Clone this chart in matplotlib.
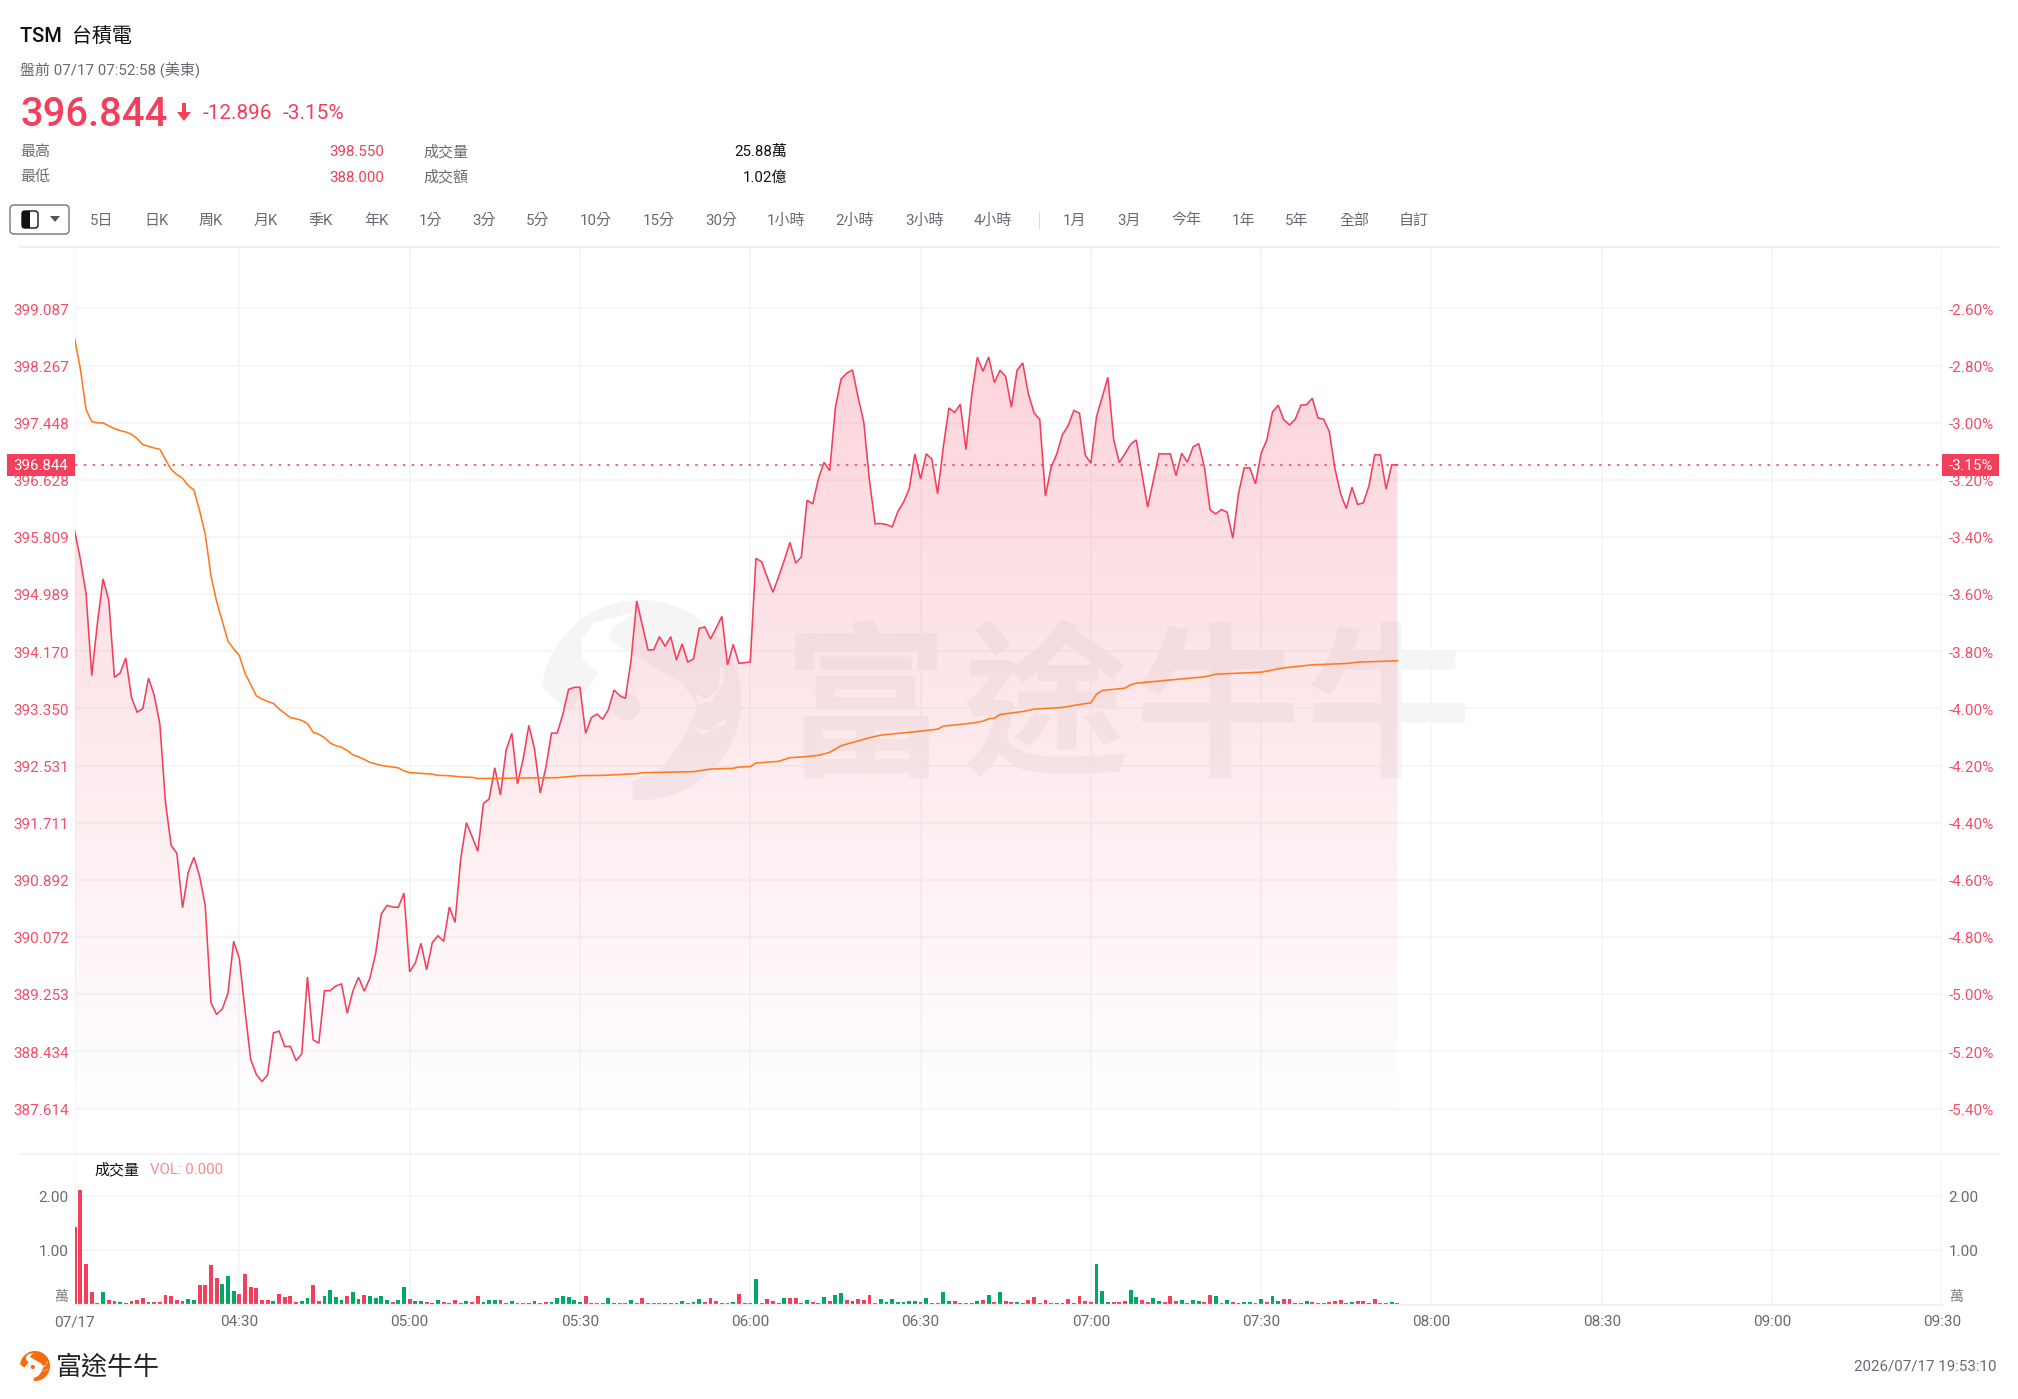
import numpy as np
import matplotlib
matplotlib.use("Agg")
import matplotlib.pyplot as plt
from matplotlib.lines import Line2D
from matplotlib.patches import Polygon, Rectangle, FancyBboxPatch, Ellipse
from matplotlib.transforms import Affine2D, ScaledTranslation

FONT = ['Roboto', 'Noto Sans CJK TC', 'DejaVu Sans']
plt.rcParams['font.family'] = FONT

# ---------- data ----------
price = [
 395.894,395.491,394.998,393.820,394.573,395.208,394.902,393.797,393.859,394.075,
 393.508,393.298,393.349,393.786,393.542,393.128,391.995,391.383,391.275,390.493,
 391.003,391.218,390.946,390.521,389.133,388.963,389.042,389.269,390.011,389.768,
 389.020,388.317,388.102,388.000,388.102,388.697,388.725,388.504,388.504,388.300,
 388.397,389.501,388.600,388.549,389.303,389.303,389.371,389.400,388.980,389.297,
 389.496,389.297,389.484,389.830,390.402,390.527,390.504,390.499,390.703,389.575,
 389.700,389.983,389.603,389.994,390.091,390.011,390.504,390.283,391.201,391.712,
 391.513,391.303,391.989,392.051,392.499,
 392.109,392.755,392.994,392.267,392.626,393.108,392.769,392.138,392.506,392.998,
 392.998,393.271,393.625,393.653,393.653,392.994,393.218,393.271,393.194,393.333,
 393.615,393.534,393.495,394.036,394.891,394.538,394.189,394.193,394.380,394.241,
 394.380,394.045,394.275,394.017,394.060,394.499,394.518,394.346,394.504,394.671,
 393.973,394.270,393.997,394.007,394.017,395.503,395.455,395.231,395.016,395.240,
 395.479,395.733,395.436,395.522,
 396.336,396.283,396.642,396.881,396.761,397.669,398.076,398.157,
 398.205,397.813,397.455,396.619,395.998,396.003,395.988,395.955,396.174,396.308,
 396.499,397.001,396.643,397.001,396.925,396.428,397.097,397.660,397.594,397.713,
 397.063,397.837,398.387,398.186,398.391,398.024,398.200,398.109,397.670,398.200,
 398.305,397.861,397.589,397.493,396.394,396.810,397.001,397.278,397.407,397.622,
 397.584,396.987,396.867,397.536,397.813,398.100,397.216,396.877,397.001,397.140,
 397.202,396.714,396.237,396.619,397.001,397.001,397.001,396.690,397.011,396.882,
 397.101,397.149,396.810,396.198,396.141,396.203,396.165,395.792,396.428,396.800,
 396.800,396.571,397.011,397.202,397.603,397.699,397.488,397.417,397.498,397.699,
 397.708,397.799,397.517,397.498,397.321,396.786,396.428,396.217,396.523,396.275,
 396.299,396.547,396.987,396.987,396.495,396.844,396.844]

avg_minute = [0,1,2,3,4,5,6,7,8,9,10,11,12,13,14,15,16,17,18,19,20,21,22,23,24,25,26,27,28,29,
 30,31,32,33,34,35,36,37,38,39,40,41,42,43,44,45,46,47,48,49,50,51,52,53,54,55,57,58,59,61,
 63,64,66,68,70,71,85,89,93,99,100,109,112,116,117,119,120,124,126,128,131,133,135,140,
 142,149,152,153,158,160,161,162,163,167,169,174,177,179,180,181,185,186,187,192,199,201,209,213,218,224,226,233]
avg_price = [398.650,398.219,397.636,397.464,397.445,397.445,397.402,397.364,397.335,397.316,
 397.282,397.220,397.134,397.110,397.086,397.067,396.919,396.776,396.704,396.651,396.546,396.484,396.188,395.848,
 395.253,394.885,394.602,394.318,394.205,394.109,393.854,393.695,393.530,393.485,393.451,393.423,393.343,393.281,
 393.219,393.202,393.179,393.134,393.009,392.981,392.930,392.856,392.817,392.794,392.748,392.686,392.658,392.618,
 392.578,392.556,392.533,392.522,392.499,392.454,392.431,392.420,392.408,392.391,392.386,392.369,392.363,392.346,
 392.358,392.387,392.391,392.415,392.429,392.444,392.482,392.492,392.511,392.516,392.568,392.592,392.645,392.654,
 392.678,392.721,392.817,392.931,
 392.968,393.025,393.054,393.097,393.140,393.168,393.202,393.212,393.264,393.307,393.341,393.365,393.408,393.431,
 393.556,393.608,393.642,393.690,393.713,393.752,393.804,393.842,393.871,393.933,393.976,393.995,394.015,394.034]

volume = [1.42,2.12,.75,.22,.01,.22,.07,.05,.04,.015,.05,.07,.11,.03,.035,.035,.17,.15,.075,.055,
 .10,.07,.36,.36,.73,.475,.37,.51,.235,.185,.55,.315,.30,.08,.08,.055,.185,.13,.15,.04,
 .05,.105,.35,.055,.15,.26,.125,.07,.155,.22,.09,.175,.15,.11,.14,.07,.04,.07,.315,.09,
 .05,.05,.04,.02,.075,.04,.02,.075,.015,.05,.045,.14,.04,.07,.07,.07,.02,.05,.02,.02,
 .02,.055,.02,.04,.035,.11,.15,.135,.075,.04,.15,.015,.015,.015,.11,.02,.02,.02,.08,.02,
 .11,.015,.015,.015,.015,.015,.015,.06,.015,.035,.085,
 .04,.105,.05,.02,.02,.035,.185,.02,.02,.455,.02,.09,.05,.02,.115,.11,.11,.02,.08,.035,
 .02,.13,.06,.165,.2,.07,.055,.09,.08,.16,.02,.09,.035,.10,.035,.035,.05,.05,.035,.11,
 .02,.02,.215,.055,.055,.02,.02,.02,.055,.07,.17,.03,.215,.055,.035,.03,.025,.075,.13,.02,
 .075,.02,.02,.02,.09,.02,.14,.055,.045,.745,.25,.035,.03,.03,.055,.26,.135,.08,.04,.11,
 .055,.03,.15,.05,.075,.02,.08,.05,.035,.165,.155,.02,.08,.03,.02,.035,.035,.02,.09,.035,
 .14,.055,.09,.085,.02,.015,.055,.045,.02,.02,.035,.05,.07,.02,.035,.055,.055,.02,.09,.02,.02,.035,.015]
vol_dir = ("rrrr gg rr gg rrr g rrrrrr gg rrrr ggg rrrrrr g rrrr gg rr gggg r gg r gggg r gg r gg r gg r g r gg rr ggg r gg rr gg rr gggggg rrrr gg rr gg rrrrrrr g r gg "
           "rrrgrgrgrg rrrggrrggr ggrggrgrrr rgggggggrg grggrrrggr grgrrggrrr rgggrgrrrg ggrrrggrrg grrrggggrr grgrgggrgr ggrrgggrrr rrrggrrgrrrgr").replace(" ", "")
price_ticks = [399.087,398.267,397.448,396.628,395.809,394.989,394.170,393.350,392.531,391.711,390.892,390.072,389.253,388.434,387.614]
pct_ticks = ["-2.60%","-2.80%","-3.00%","-3.20%","-3.40%","-3.60%","-3.80%","-4.00%","-4.20%","-4.40%","-4.60%","-4.80%","-5.00%","-5.20%","-5.40%"]
time_minutes = [0,29,59,89,119,149,179,209,239,269,299,329]
time_labels = ["07/17","04:30","05:00","05:30","06:00","06:30","07:00","07:30","08:00","08:30","09:00","09:30"]
vol_ticks = [1.0,2.0]
last_price = 396.844
assert len(price) == 234, len(price)
assert len(avg_minute) == len(avg_price), (len(avg_minute), len(avg_price))
assert len(volume) == 234, len(volume)
assert len(vol_dir) == 234, len(vol_dir)

# tool bar
periods = [("5日",102),("日K",157),("周K",211),("月K",266),("季K",321),("年K",376),("1分",430),("3分",484),("5分",538),
           ("10分",596),("15分",658.5),("30分",721),("1小時",786),("2小時",855),("3小時",924),("4小時",993),
           ("1月",1075),("3月",1129),("今年",1186),("1年",1243.5),("5年",1297),("全部",1354),("自訂",1414)]

RED = "#F23F5C"; GREEN = "#00A866"; ORANGE = "#FF7A1A"; GRAY = "#666B73"; GRID = "#F4F4F6"; DARK = "#111111"

W, H = 2018, 1399
fig = plt.figure(figsize=(W/100, H/100), dpi=100, facecolor="white")
px = Affine2D().scale(1/W, -1/H).translate(0, 1) + fig.transFigure
TEXT_DY = 1.5
down = ScaledTranslation(0, -0.5/72, fig.dpi_scale_trans)

def T(x, y, s, size, color=GRAY, ha="left", va="center", **kw):
    return fig.text(x, y+TEXT_DY, s, fontsize=size*0.72, color=color, ha=ha, va=va, transform=px, family=FONT, **kw)

def FL(x0, x1, y0, y1, color, lw, **kw):
    fig.add_artist(Line2D([x0, x1], [y0, y1], color=color, lw=lw*0.72, transform=px, **kw))

def logo(cx, cy, r, fg, bg, z):
    def P(pts):
        a = np.array(pts, float)
        return np.c_[cx + (a[:, 0]-575)/300*r, cy + (a[:, 1]-600)/300*r]
    th = np.radians(np.linspace(-97, 173, 80))
    arc = np.c_[575+300*np.cos(th), 600+300*np.sin(-th)]
    arc = np.vstack([[[550, 900]], arc[::1]])
    fig.add_artist(Polygon(P(np.vstack([arc, [[360,635],[450,520],[550,850]]])), closed=True, fc=fg, ec="none", transform=px, zorder=z))
    inner = [(395,420),(430,370),(560,335),(490,385),(478,415),(500,435),(700,550),(745,620),(700,720),(640,800),(550,845),(450,640),(450,520),(400,480)]
    fig.add_artist(Polygon(P(inner), closed=True, fc=bg, ec="none", transform=px, zorder=z))
    for cres in ([(815,490),(805,570),(770,597),(738,580),(745,615),(790,600),(825,540)],
                 [(848,590),(835,650),(780,692),(728,680),(760,705),(830,670)]):
        fig.add_artist(Polygon(P(cres), closed=True, fc=bg, ec="none", transform=px, zorder=z))
    c = P([(530, 620)])[0]
    fig.add_artist(Ellipse(c, 2*42/300*r, 2*42/300*r, fc=fg, ec="none", transform=px, zorder=z))

# ---------- watermark (beneath the plot) ----------
logo(641, 700, 100, "#F5F5F5", "white", -2)
for ch, cx in zip("富途牛牛", [866, 1046, 1217, 1388]):
    T(cx, 716, ch, 166, color="#F5F5F5", ha="center", fontweight="bold", zorder=-2)

# ---------- panels ----------
X0, X1, YT, YB, YV = 74.7, 1942.4, 247, 1153, 1304
def add_ax(ytop, ybot):
    a = fig.add_axes([X0/W, 1-ybot/H, (X1-X0)/W, (ybot-ytop)/H])
    a.patch.set_visible(False)
    for s in a.spines.values():
        s.set_visible(False)
    return a
ax = add_ax(YT, YB)
vx = add_ax(YB, YV)

PY = lambda y: 398.267 - (y-365.6)*0.8195/57.15
ax.set_xlim(0, 329); ax.set_ylim(PY(YB), PY(YT))
ax.set_xticks(time_minutes); ax.set_xticklabels([])
ax.set_yticks(price_ticks)
ax.set_yticklabels([f"{v:.3f}" for v in price_ticks], color="#F34E68", fontsize=11)
ax.tick_params(axis="both", length=0, pad=4.2)
ax.grid(True, color=GRID, lw=1.1, zorder=0)
ax.set_axisbelow(True)

rx = ax.twinx()
rx.set_ylim(ax.get_ylim()); rx.set_yticks(price_ticks)
rx.set_yticklabels(pct_ticks, color="#F34E68", fontsize=11)
rx.tick_params(axis="y", length=0, pad=4.5)
for s in rx.spines.values():
    s.set_visible(False)
rx.patch.set_visible(False)

# gradient fill under the price line
xs = np.arange(len(price))
ytop_fill, ybot_fill = max(price), PY(1125)
grad = np.zeros((256, 1, 4))
grad[..., 0], grad[..., 1], grad[..., 2] = 242/255, 63/255, 92/255
grad[..., 3] = np.linspace(0.22, 0.0, 256)[:, None]
im = ax.imshow(grad, extent=(0, xs[-1], ybot_fill, ytop_fill), origin="upper", aspect="auto", zorder=1, interpolation="bilinear")
poly = Polygon(np.vstack([[0, ybot_fill], np.c_[xs, price], [xs[-1], ybot_fill]]), closed=True, transform=ax.transData, fc="none", ec="none")
ax.add_patch(poly)
im.set_clip_path(poly)
ax.set_xlim(0, 329); ax.set_ylim(PY(YB), PY(YT))

ax.plot(xs, price, color=RED, lw=1.15, zorder=3, solid_joinstyle="miter")
ax.plot(avg_minute, avg_price, color=ORANGE, lw=1.15, zorder=4)
ax.axhline(last_price, color=RED, lw=1.1, ls=(0, (1.6, 4.2)), zorder=5)

# volume panel
vx.set_xlim(0, 329); vx.set_ylim(0, (YV-YB)/54)
vx.set_xticks(time_minutes); vx.set_xticklabels(time_labels, color=GRAY, fontsize=11)
vx.set_yticks(vol_ticks); vx.set_yticklabels(["1.00", "2.00"], color=GRAY, fontsize=11)
vx.tick_params(axis="both", length=0)
vx.tick_params(axis="y", pad=4.5)
vx.tick_params(axis="x", pad=8)
vx.grid(True, color=GRID, lw=1.1, zorder=0)
vx.set_axisbelow(True)
vx.bar(np.arange(234), volume, width=0.68, color=[RED if d == "r" else GREEN for d in vol_dir], zorder=3)
rv = vx.twinx()
rv.set_ylim(vx.get_ylim()); rv.set_yticks(vol_ticks); rv.set_yticklabels(["1.00", "2.00"], color=GRAY, fontsize=11)
rv.tick_params(axis="y", length=0, pad=4.5)
for s in rv.spines.values():
    s.set_visible(False)
rv.patch.set_visible(False)

# tick labels sit slightly lower than matplotlib's centring
for a in (ax, rx, vx, rv):
    for lab in a.get_yticklabels():
        lab.set_transform(lab.get_transform() + down)

FL(20, 1998, 246.7, 246.7, "#EEEEEE", 2.2)
FL(20, 1998, 1153.5, 1153.5, "#F2F2F3", 1.6)
FL(74, 1942, 1305, 1305, "#F0F0F0", 2.2)

T(68, 1296, "萬", 14, ha="right", alpha=.85)
T(1949, 1296, "萬", 14, alpha=.85)
T(94, 1169, "成交量", 15, color=DARK)
T(150, 1169, "VOL: 0.000", 15, color="#FF8A8A")

# price badges
for x0, x1, s in [(7, 74.7, f"{last_price:.3f}"), (1942, 1999, "-3.15%")]:
    fig.add_artist(Rectangle((x0, 453.5), x1-x0, 22.5, fc=RED, ec="none", transform=px, zorder=6))
    T((x0+x1)/2, 464.3, s, 15, color="white", ha="center", zorder=7)

# ---------- header ----------
T(20, 34.5, "TSM  台積電", 20, color=DARK, fontweight="medium")
T(20, 68.5, "盤前 07/17 07:52:58 (美東)", 15)
T(20, 114, "396.844", 40, color=RED, fontweight="medium")
fig.add_artist(Polygon([(182, 103), (186, 103), (186, 112), (191, 112), (184, 121), (177, 112), (182, 112)], closed=True, fc=RED, ec="none", transform=px))
T(203, 112, "-12.896", 20.8, color=RED)
T(283, 112, "-3.15%", 20.8, color=RED)
T(20, 150.5, "最高", 15); T(20, 176, "最低", 15)
T(384, 150.5, "398.550", 15, color=RED, ha="right"); T(384, 176, "388.000", 15, color=RED, ha="right")
T(423, 150.5, "成交量", 15); T(423, 176, "成交額", 15)
T(787, 150.5, "25.88萬", 15, color=DARK, ha="right"); T(787, 176, "1.02億", 15, color=DARK, ha="right")

fig.add_artist(FancyBboxPatch((12, 207), 55, 25, boxstyle="round,pad=2,rounding_size=4", fc="white", ec="#6B7785", lw=1.0, transform=px))
fig.add_artist(FancyBboxPatch((23, 212), 14, 15, boxstyle="round,pad=1,rounding_size=3", fc="white", ec="#111111", lw=1.0, transform=px))
fig.add_artist(Rectangle((22, 211), 8, 17, fc="#111111", ec="none", transform=px))
fig.add_artist(Polygon([(50, 216), (60, 216), (55, 222)], closed=True, fc="#555555", ec="none", transform=px))
for s, x in periods:
    T(x, 219.5, s, 15, ha="center")
FL(1038.6, 1038.6, 212, 228, "#DDDDDD", 1)

# ---------- footer ----------
logo(35, 1366, 15, "#F56C0D", "white", 3)
T(56, 1366, "富途牛牛", 26, color="#222222", fontweight="medium")
T(1997, 1365, "2026/07/17 19:53:10", 15, ha="right")

fig.savefig("out.png", dpi=100, facecolor="white")
